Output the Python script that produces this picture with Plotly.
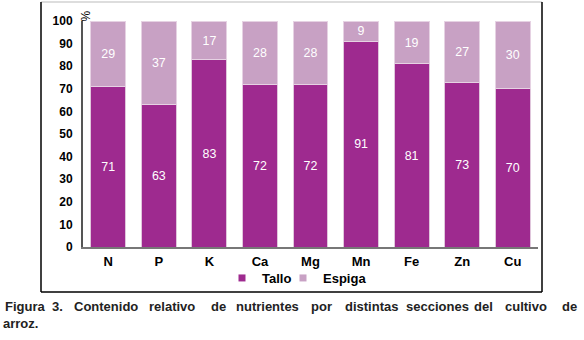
import plotly.graph_objects as go

categories = ["N", "P", "K", "Ca", "Mg", "Mn", "Fe", "Zn", "Cu"]
tallo = [71, 63, 83, 72, 72, 91, 81, 73, 70]
espiga = [29, 37, 17, 28, 28, 9, 19, 27, 30]
y_ticks = list(range(0, 101, 10))

TALLO_C = "#9E2A8F"
ESPIGA_C = "#C8A1C4"
FONT = "Liberation Sans, Arial"

fig = go.Figure()
fig.add_trace(go.Bar(
    x=categories, y=tallo, name="Tallo", showlegend=False,
    marker=dict(color=TALLO_C, line=dict(color="#E0C6DC", width=1)),
    text=[str(v) for v in tallo], textposition="inside", insidetextanchor="middle",
    textfont=dict(color="white", size=13, family=FONT), textangle=0,
))
fig.add_trace(go.Bar(
    x=categories, y=espiga, name="Espiga", showlegend=False,
    marker=dict(color=ESPIGA_C, line=dict(color="#E6D2E3", width=1)),
    text=[str(v) for v in espiga], textposition="inside", insidetextanchor="middle",
    textfont=dict(color="white", size=13, family=FONT), textangle=0,
))
# legend entries with small square markers
for name, col in [("Tallo", TALLO_C), ("Espiga", ESPIGA_C), (" ", "rgba(0,0,0,0)")]:
    fig.add_trace(go.Scatter(x=[None], y=[None], mode="markers", name=name, hoverinfo="skip",
                             marker=dict(symbol="square", size=7, color=col), showlegend=True))

L, R, T, B = 83, 46, 21, 93
W, H = 584 - L - R, 340 - T - B

def px(x):
    return (x - L) / W

def py(y):
    return (340 - B - y) / H

fig.update_layout(
    width=584, height=340, barmode="stack", bargap=0.31,
    margin=dict(l=L, r=R, t=T, b=B, pad=0),
    paper_bgcolor="white", plot_bgcolor="white",
    font=dict(family=FONT, color="black"),
    uniformtext=dict(minsize=8, mode="show"),
    xaxis=dict(showgrid=False, showline=True, linecolor="#777777", linewidth=2,
               ticks="", tickfont=dict(size=13, family=FONT, weight="bold"),
               ticklabelstandoff=1),
    yaxis=dict(range=[0, 100], tickvals=y_ticks, showgrid=False, showline=True,
               linecolor="#555555", linewidth=2, ticks="", zeroline=False,
               tickfont=dict(size=12, family=FONT, weight="bold"), ticklabelstandoff=6),
    legend=dict(orientation="h", x=px(222), xanchor="left", y=py(278), yanchor="middle",
                font=dict(size=13, weight="bold", family=FONT),
                itemwidth=30, entrywidth=16, entrywidthmode="pixels",
                tracegroupgap=0, bgcolor="rgba(0,0,0,0)", traceorder="normal"),
    showlegend=True,
)

shapes = [
    dict(type="line", xref="paper", yref="paper", x0=px(41), x1=px(542), y0=py(2), y1=py(2),
         line=dict(color="#BBBBBB", width=1)),
    dict(type="line", xref="paper", yref="paper", x0=px(41), x1=px(41), y0=py(2), y1=py(292),
         line=dict(color="black", width=1.5)),
    dict(type="line", xref="paper", yref="paper", x0=px(542), x1=px(542), y0=py(2), y1=py(292),
         line=dict(color="black", width=1.5)),
    dict(type="line", xref="paper", yref="paper", x0=px(41), x1=px(542), y0=py(292), y1=py(292),
         line=dict(color="black", width=1.5)),
]
fig.update_layout(shapes=shapes)

fig.add_annotation(text="%", xref="paper", yref="paper", x=px(77), y=py(9), textangle=-90,
                   showarrow=False, font=dict(size=12, family=FONT))

# caption, justified word by word (centres of the words)
caption_words = ["Figura", "3.", "Contenido", "relativo", "de", "nutrientes", "por",
                 "distintas", "secciones", "del", "cultivo", "de"]
caption_cx = [25, 57, 106, 172, 218, 267, 321, 371, 437, 483, 526, 569]
for w, cx in zip(caption_words, caption_cx):
    fig.add_annotation(text=w, xref="paper", yref="paper", x=px(cx), y=py(306), xanchor="center",
                       yanchor="middle", showarrow=False,
                       font=dict(size=13, family=FONT, color="#222222", weight="bold"))
fig.add_annotation(text="arroz.", xref="paper", yref="paper", x=px(1), y=py(323), xanchor="left",
                   yanchor="middle", showarrow=False,
                   font=dict(size=13, family=FONT, color="#222222", weight="bold"))

fig.write_html("out.html")
